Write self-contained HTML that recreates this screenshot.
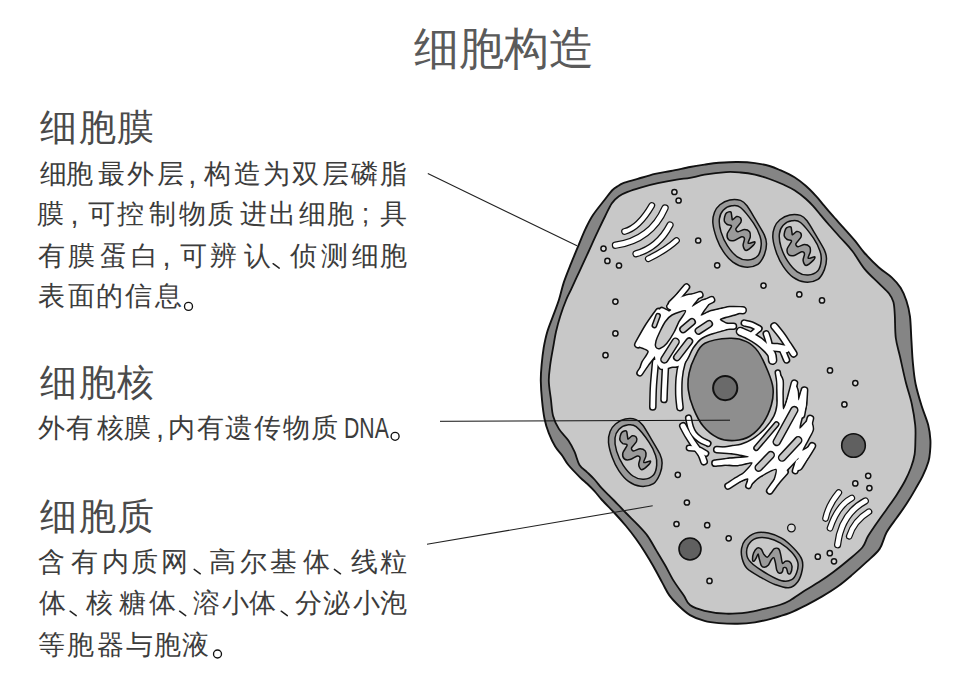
<!DOCTYPE html>
<html><head><meta charset="utf-8"><style>
*{margin:0;padding:0}
html,body{width:959px;height:692px;background:#fff;overflow:hidden}
body{position:relative;font-family:"Liberation Sans",sans-serif;color:#3c3c3c}
.t{position:absolute;white-space:nowrap;line-height:1}
svg{position:absolute;left:0;top:0}
.ln{position:absolute;left:0;line-height:1;white-space:nowrap}
.ln span{position:absolute;top:0}
</style></head>
<body>
<svg width="959" height="692" viewBox="0 0 959 692">
<path d="M612.5,190.0 C614.8,187.7 616.2,187.1 618.0,186.0 C619.8,184.9 619.9,184.4 623.2,183.2 C626.5,182.0 632.4,180.5 637.7,178.9 C643.0,177.3 649.5,175.1 655.0,173.8 C660.5,172.5 665.1,172.1 670.9,171.0 C676.7,169.9 684.4,168.1 690.0,167.0 C695.6,165.9 699.7,165.3 704.5,164.6 C709.3,163.9 713.4,163.2 718.9,162.8 C724.4,162.4 731.7,161.9 737.7,162.0 C743.7,162.1 749.7,162.4 755.0,163.1 C760.3,163.8 765.3,164.8 769.5,166.0 C773.7,167.2 775.8,168.2 780.0,170.1 C784.2,172.0 790.2,174.7 794.5,177.3 C798.8,180.0 802.4,182.9 806.0,186.0 C809.6,189.1 813.2,193.0 816.1,196.1 C819.0,199.2 820.8,201.7 823.4,204.8 C826.0,207.9 828.6,211.1 832.0,214.9 C835.4,218.8 839.8,223.6 843.6,227.9 C847.5,232.2 851.6,236.7 855.1,240.9 C858.6,245.1 860.5,248.6 864.5,253.0 C868.5,257.4 874.3,263.4 878.9,267.5 C883.5,271.6 888.3,274.2 891.9,277.6 C895.5,281.0 898.2,283.9 900.6,287.7 C903.0,291.5 904.8,295.9 906.4,300.7 C908.0,305.5 909.2,310.1 910.0,316.6 C910.8,323.2 910.9,332.4 911.4,340.0 C911.9,347.6 912.1,354.7 912.8,362.0 C913.5,369.3 914.1,376.8 915.6,384.0 C917.1,391.2 919.4,398.7 921.5,405.5 C923.6,412.3 926.7,419.2 928.2,425.0 C929.7,430.8 930.1,435.5 930.4,440.0 C930.7,444.5 930.3,448.4 930.0,452.0 C929.7,455.6 929.6,457.7 928.4,461.7 C927.2,465.7 924.8,471.5 922.6,476.1 C920.4,480.7 918.0,484.5 915.4,489.1 C912.8,493.7 909.8,498.8 906.7,503.6 C903.6,508.4 900.0,513.2 896.6,518.0 C893.2,522.8 889.3,527.4 886.5,532.5 C883.7,537.6 882.9,544.0 879.6,548.9 C876.3,553.8 871.2,557.6 866.6,561.9 C862.0,566.2 856.9,570.8 852.1,574.9 C847.3,579.0 842.8,582.9 837.7,586.5 C832.7,590.1 827.1,593.5 821.8,596.6 C816.5,599.7 811.2,602.6 805.9,605.3 C800.6,608.0 795.8,610.5 790.0,612.8 C784.2,615.0 776.7,617.2 770.9,618.8 C765.1,620.4 760.5,621.6 755.0,622.4 C749.5,623.2 743.7,623.7 737.7,623.8 C731.7,623.9 724.4,623.6 718.9,623.1 C713.4,622.6 709.3,622.2 704.5,620.9 C699.7,619.6 694.2,617.6 690.0,615.1 C685.8,612.6 682.4,609.3 679.0,606.0 C675.6,602.7 672.2,599.3 669.4,595.4 C666.6,591.5 664.8,587.2 662.1,582.4 C659.5,577.6 656.4,571.6 653.5,566.5 C650.6,561.4 647.7,556.6 644.8,552.0 C641.9,547.4 639.2,543.3 636.1,539.0 C633.0,534.7 629.6,530.3 626.0,526.0 C622.4,521.7 618.5,517.3 614.5,513.0 C610.5,508.7 605.3,503.6 602.0,500.0 C598.7,496.4 597.0,493.8 594.5,491.1 C592.0,488.4 589.6,486.1 587.2,483.8 C584.8,481.5 583.1,480.4 580.0,477.3 C576.9,474.2 571.4,468.6 568.4,465.0 C565.4,461.4 564.5,458.8 562.3,455.7 C560.1,452.6 557.5,450.4 555.2,446.6 C553.0,442.9 550.6,437.8 548.8,433.2 C547.0,428.6 545.6,424.3 544.5,418.8 C543.4,413.3 542.6,406.3 542.0,400.0 C541.4,393.7 540.9,386.7 540.8,380.9 C540.7,375.1 541.1,370.5 541.6,365.0 C542.1,359.5 542.8,353.2 543.7,347.7 C544.7,342.2 545.7,337.1 547.3,331.8 C548.9,326.5 551.2,321.2 553.1,315.9 C555.0,310.6 557.1,305.6 558.9,300.0 C560.7,294.4 561.8,288.5 563.8,282.4 C565.8,276.3 568.6,269.6 571.0,263.6 C573.4,257.6 575.8,252.0 578.2,246.2 C580.6,240.4 583.0,234.1 585.5,228.9 C588.0,223.7 589.8,219.8 593.0,215.0 C596.2,210.2 601.2,204.2 604.5,200.0 C607.8,195.8 610.2,192.3 612.5,190.0Z" fill="#858585" stroke="#111" stroke-width="1.9"/>
<path d="M611.7,203.5 C614.0,200.1 616.2,198.1 618.9,196.2 C621.5,194.3 624.0,193.3 627.6,191.9 C631.2,190.5 635.6,189.1 640.6,187.6 C645.6,186.1 651.9,184.5 657.9,183.2 C663.9,181.9 671.4,180.5 676.7,179.6 C682.1,178.7 685.4,178.7 690.0,177.9 C694.6,177.1 698.5,175.7 704.5,174.7 C710.5,173.7 720.1,172.5 726.1,172.1 C732.1,171.7 735.8,172.1 740.6,172.5 C745.4,172.9 750.2,173.6 755.0,174.7 C759.8,175.8 764.7,177.3 769.5,179.0 C774.3,180.7 779.7,182.9 783.9,184.8 C788.1,186.7 790.8,187.9 794.5,190.3 C798.2,192.7 802.9,196.3 806.0,199.0 C809.1,201.7 810.8,203.5 813.2,206.2 C815.6,208.8 817.9,211.8 820.5,214.9 C823.1,218.0 825.7,221.2 829.1,225.0 C832.5,228.8 836.8,233.7 840.7,238.0 C844.6,242.3 848.3,245.8 852.3,251.0 C856.3,256.1 860.1,263.5 864.5,268.9 C868.9,274.3 874.8,279.3 878.9,283.4 C883.0,287.5 886.6,290.4 889.0,293.5 C891.4,296.6 892.4,298.5 893.4,302.1 C894.4,305.7 894.4,309.1 894.8,315.1 C895.2,321.1 894.9,331.0 895.8,338.0 C896.7,345.0 898.4,349.5 900.1,357.0 C901.8,364.5 904.0,375.2 906.0,383.0 C908.0,390.8 910.3,397.0 911.8,404.0 C913.3,411.0 914.6,419.0 915.2,425.0 C915.8,431.0 915.5,435.1 915.4,440.0 C915.3,444.9 915.3,449.9 914.6,454.5 C913.9,459.1 912.6,463.2 911.0,467.5 C909.4,471.8 907.6,475.9 905.2,480.5 C902.8,485.1 899.7,490.1 896.6,494.9 C893.5,499.7 889.9,504.6 886.5,509.4 C883.1,514.2 879.4,519.2 876.3,523.8 C873.2,528.4 870.0,532.8 867.7,536.8 C865.4,540.8 865.6,543.5 862.3,547.5 C859.0,551.5 852.6,556.4 847.8,560.5 C843.0,564.6 838.2,568.4 833.4,572.0 C828.6,575.6 823.7,579.0 818.9,582.1 C814.1,585.2 809.3,587.7 804.5,590.8 C799.7,593.9 794.1,598.1 790.0,600.5 C785.9,602.9 783.8,603.6 779.6,605.0 C775.5,606.4 770.4,607.4 765.1,608.6 C759.8,609.8 754.3,611.4 747.8,612.3 C741.3,613.1 733.3,614.0 726.1,613.7 C718.9,613.5 710.5,612.2 704.5,610.8 C698.5,609.3 693.5,607.6 690.0,605.0 C686.5,602.4 686.5,599.4 683.8,595.4 C681.1,591.4 676.8,586.0 673.7,580.9 C670.6,575.8 667.9,570.0 665.0,565.0 C662.1,560.0 659.3,555.4 656.4,550.6 C653.5,545.8 650.8,540.4 647.7,536.1 C644.6,531.8 641.2,528.5 637.6,524.6 C634.0,520.8 630.0,517.1 626.0,513.0 C622.0,508.9 616.4,502.9 613.5,500.0 C610.6,497.1 610.9,497.4 608.9,495.4 C606.9,493.4 604.1,490.8 601.7,488.2 C599.3,485.6 596.9,482.1 594.5,479.5 C592.1,476.9 589.7,474.7 587.2,472.3 C584.7,469.9 581.6,468.4 579.5,465.0 C577.4,461.6 576.4,455.8 574.5,451.7 C572.6,447.6 571.0,444.3 568.4,440.5 C565.8,436.7 561.4,433.0 558.9,428.9 C556.4,424.8 554.4,420.7 553.1,415.9 C551.8,411.1 551.7,405.8 551.0,400.0 C550.3,394.2 548.9,386.7 548.8,380.9 C548.7,375.1 549.5,370.5 550.2,365.0 C550.9,359.5 552.1,353.2 553.1,347.7 C554.1,342.2 554.8,337.1 556.0,331.8 C557.2,326.5 558.6,321.2 560.3,315.9 C562.0,310.6 564.3,304.4 566.1,300.0 C567.9,295.6 568.7,294.5 571.0,289.6 C573.3,284.7 576.8,277.1 579.7,270.8 C582.6,264.5 585.5,258.3 588.4,252.0 C591.3,245.7 594.2,239.1 597.0,233.2 C599.8,227.3 602.5,221.4 605.0,216.5 C607.5,211.6 609.4,206.9 611.7,203.5Z" fill="#c8c8c8" stroke="#111" stroke-width="1.8"/>
<path d="M704.9,343.3 C710.7,340.2 722.9,338.6 729.8,338.3 C736.7,338.0 741.7,339.4 746.4,341.6 C751.1,343.8 754.5,346.6 758.1,351.6 C761.7,356.6 765.5,365.4 768.0,371.5 C770.5,377.6 772.4,382.6 773.0,388.1 C773.6,393.7 773.0,399.0 771.4,404.8 C769.8,410.6 766.7,417.8 763.1,423.0 C759.5,428.2 754.5,433.4 749.8,436.3 C745.1,439.2 740.1,440.2 734.8,440.5 C729.5,440.8 723.5,440.4 718.2,438.0 C713.0,435.6 707.4,431.3 703.3,426.3 C699.1,421.3 695.8,414.2 693.3,408.1 C690.8,402.0 689.0,395.6 688.3,389.8 C687.6,384.0 688.0,378.7 689.1,373.2 C690.2,367.7 692.4,361.6 695.0,356.6 C697.6,351.6 699.1,346.4 704.9,343.3Z" fill="#8e8e8e" stroke="#111" stroke-width="1.6"/>
<circle cx="725.2" cy="388.1" r="12.1" fill="#6a6a6a" stroke="#111" stroke-width="2"/>
<circle cx="853.5" cy="445.5" r="11.8" fill="#606060" stroke="#111" stroke-width="1.6"/>
<circle cx="690" cy="549" r="11" fill="#606060" stroke="#111" stroke-width="1.6"/>
<circle cx="674.4" cy="192.0" r="2.6" fill="#dedede" stroke="#111" stroke-width="1.5"/>
<circle cx="678.6" cy="200.5" r="2.6" fill="#dedede" stroke="#111" stroke-width="1.5"/>
<circle cx="603.5" cy="248.6" r="2.6" fill="#dedede" stroke="#111" stroke-width="1.5"/>
<circle cx="607.4" cy="260.9" r="2.6" fill="#dedede" stroke="#111" stroke-width="1.5"/>
<circle cx="619.0" cy="265.5" r="2.6" fill="#dedede" stroke="#111" stroke-width="1.5"/>
<circle cx="698.2" cy="240.5" r="2.6" fill="#dedede" stroke="#111" stroke-width="1.5"/>
<circle cx="717.2" cy="265.3" r="2.6" fill="#dedede" stroke="#111" stroke-width="1.5"/>
<circle cx="763.5" cy="285.6" r="2.6" fill="#dedede" stroke="#111" stroke-width="1.5"/>
<circle cx="799.3" cy="294.4" r="2.6" fill="#dedede" stroke="#111" stroke-width="1.5"/>
<circle cx="822.0" cy="300.4" r="2.6" fill="#dedede" stroke="#111" stroke-width="1.5"/>
<circle cx="830.0" cy="370.4" r="2.6" fill="#dedede" stroke="#111" stroke-width="1.5"/>
<circle cx="855.3" cy="383.1" r="2.6" fill="#dedede" stroke="#111" stroke-width="1.5"/>
<circle cx="844.4" cy="404.4" r="2.6" fill="#dedede" stroke="#111" stroke-width="1.5"/>
<circle cx="615.4" cy="301.6" r="2.6" fill="#dedede" stroke="#111" stroke-width="1.5"/>
<circle cx="615.4" cy="333.4" r="2.6" fill="#dedede" stroke="#111" stroke-width="1.5"/>
<circle cx="605.5" cy="355.2" r="2.6" fill="#dedede" stroke="#111" stroke-width="1.5"/>
<circle cx="677.8" cy="474.8" r="2.6" fill="#dedede" stroke="#111" stroke-width="1.5"/>
<circle cx="686.9" cy="502.5" r="2.6" fill="#dedede" stroke="#111" stroke-width="1.5"/>
<circle cx="676.5" cy="524.0" r="2.6" fill="#dedede" stroke="#111" stroke-width="1.5"/>
<circle cx="707.2" cy="525.2" r="2.6" fill="#dedede" stroke="#111" stroke-width="1.5"/>
<circle cx="728.7" cy="538.3" r="2.6" fill="#dedede" stroke="#111" stroke-width="1.5"/>
<circle cx="709.5" cy="580.9" r="2.6" fill="#dedede" stroke="#111" stroke-width="1.5"/>
<circle cx="868.2" cy="475.8" r="2.6" fill="#dedede" stroke="#111" stroke-width="1.5"/>
<circle cx="855.3" cy="483.4" r="2.6" fill="#dedede" stroke="#111" stroke-width="1.5"/>
<circle cx="869.4" cy="488.1" r="2.6" fill="#dedede" stroke="#111" stroke-width="1.5"/>
<circle cx="817.8" cy="556.7" r="2.6" fill="#dedede" stroke="#111" stroke-width="1.5"/>
<circle cx="829.8" cy="553.2" r="2.6" fill="#dedede" stroke="#111" stroke-width="1.5"/>
<circle cx="834.0" cy="561.3" r="2.6" fill="#dedede" stroke="#111" stroke-width="1.5"/>
<circle cx="791.4" cy="528" r="3.8" fill="#dedede" stroke="#111" stroke-width="1.3"/>
<path d="M729.7,199.9 C733.1,199.2 737.6,199.4 740.5,200.4 C743.4,201.4 744.5,202.6 747.0,205.8 C749.5,209.1 752.8,215.0 755.7,219.9 C758.6,224.8 762.6,231.1 764.4,235.1 C766.2,239.1 766.5,240.6 766.5,243.8 C766.5,247.1 765.8,251.2 764.4,254.6 C763.0,258.0 761.1,262.3 757.9,264.4 C754.6,266.5 749.1,267.5 744.9,267.1 C740.7,266.7 736.5,264.8 732.9,262.2 C729.3,259.6 725.9,255.4 723.2,251.4 C720.5,247.4 718.4,243.1 716.7,238.4 C715.0,233.7 713.3,227.5 712.9,223.2 C712.5,218.8 713.3,215.4 714.5,212.3 C715.7,209.2 717.4,206.9 719.9,204.8 C722.4,202.7 726.3,200.6 729.7,199.9Z" fill="#9a9a9a" stroke="#111" stroke-width="1.5"/>
<path d="M731.8,205.8 C734.7,205.4 736.9,204.6 740.5,207.5 C744.1,210.4 750.2,218.4 753.5,223.2 C756.8,228.0 758.7,232.4 760.0,236.2 C761.3,240.0 761.5,242.7 761.1,245.9 C760.8,249.2 760.1,253.3 757.9,255.7 C755.7,258.1 751.5,259.8 748.1,260.0 C744.7,260.2 740.7,259.2 737.3,256.8 C733.9,254.5 730.2,250.1 727.5,245.9 C724.8,241.8 722.4,236.4 721.0,231.9 C719.6,227.4 719.0,222.4 719.4,218.8 C719.8,215.2 721.1,212.4 723.2,210.2 C725.3,208.0 728.9,206.2 731.8,205.8Z" fill="#c8c8c8" stroke="#111" stroke-width="1.5"/>
<path d="M726.5,212.9 C727.4,212.2 730.0,211.2 730.8,211.9 C731.6,212.6 731.6,216.1 731.9,217.3 C732.2,218.5 731.9,219.9 732.6,219.8 C733.3,219.7 735.4,216.9 736.6,216.6 C737.8,216.3 740.0,217.1 740.6,218.0 C741.2,218.9 741.6,220.7 740.9,222.3 C740.2,223.9 736.3,227.4 735.9,228.8 C735.5,230.2 736.8,231.6 738.1,231.7 C739.4,231.8 742.8,229.5 744.5,229.5 C746.2,229.5 748.7,230.6 749.6,231.7 C750.5,232.8 750.5,235.1 750.3,236.8 C750.1,238.5 747.5,242.6 748.2,243.3 C748.9,244.1 754.0,241.5 754.7,241.8 C755.5,242.1 754.5,244.1 753.2,245.4 C751.9,246.7 747.5,250.5 746.0,250.5 C744.5,250.5 743.3,247.1 743.1,245.4 C742.9,243.7 744.7,240.2 744.5,238.9 C744.3,237.6 743.2,236.6 741.7,236.8 C740.2,237.0 736.4,240.0 734.4,240.4 C732.4,240.8 729.8,240.7 728.7,239.7 C727.6,238.7 726.8,236.0 727.2,233.9 C727.6,231.8 731.6,227.3 731.6,225.9 C731.6,224.5 728.3,225.2 727.2,224.5 C726.1,223.8 724.7,222.1 724.3,220.9 C723.9,219.7 724.4,217.8 724.7,216.6 C725.0,215.4 725.6,213.6 726.5,212.9Z" fill="#9a9a9a" stroke="#111" stroke-width="1.5" stroke-linejoin="round"/>
<path d="M789.7,214.9 C793.1,214.2 797.6,214.4 800.5,215.4 C803.4,216.4 804.5,217.6 807.0,220.8 C809.5,224.1 812.8,230.0 815.7,234.9 C818.6,239.8 822.6,246.1 824.4,250.1 C826.2,254.1 826.5,255.6 826.5,258.8 C826.5,262.1 825.8,266.2 824.4,269.6 C823.0,273.0 821.1,277.3 817.9,279.4 C814.6,281.5 809.1,282.5 804.9,282.1 C800.7,281.7 796.5,279.8 792.9,277.2 C789.3,274.6 785.9,270.4 783.2,266.4 C780.5,262.4 778.4,258.1 776.7,253.4 C775.0,248.7 773.3,242.5 772.9,238.2 C772.5,233.8 773.3,230.4 774.5,227.3 C775.7,224.2 777.4,221.9 779.9,219.8 C782.4,217.7 786.3,215.6 789.7,214.9Z" fill="#9a9a9a" stroke="#111" stroke-width="1.5"/>
<path d="M791.8,220.8 C794.7,220.4 796.9,219.6 800.5,222.5 C804.1,225.4 810.2,233.4 813.5,238.2 C816.8,243.0 818.7,247.4 820.0,251.2 C821.3,255.0 821.5,257.6 821.1,260.9 C820.8,264.1 820.1,268.3 817.9,270.7 C815.7,273.1 811.5,274.8 808.1,275.0 C804.7,275.2 800.7,274.2 797.3,271.8 C793.9,269.4 790.2,265.0 787.5,260.9 C784.8,256.8 782.4,251.4 781.0,246.9 C779.6,242.4 779.0,237.4 779.4,233.8 C779.8,230.2 781.1,227.4 783.2,225.2 C785.3,223.0 788.9,221.2 791.8,220.8Z" fill="#c8c8c8" stroke="#111" stroke-width="1.5"/>
<path d="M786.5,227.9 C787.4,227.2 790.0,226.2 790.8,226.9 C791.6,227.6 791.6,231.1 791.9,232.3 C792.2,233.5 791.9,234.9 792.6,234.8 C793.3,234.7 795.4,231.9 796.6,231.6 C797.8,231.3 800.0,232.1 800.6,233.0 C801.2,233.9 801.6,235.7 800.9,237.3 C800.2,238.9 796.3,242.4 795.9,243.8 C795.5,245.2 796.8,246.6 798.1,246.7 C799.4,246.8 802.8,244.5 804.5,244.5 C806.2,244.5 808.7,245.6 809.6,246.7 C810.5,247.8 810.5,250.1 810.3,251.8 C810.1,253.5 807.5,257.6 808.2,258.3 C808.9,259.1 814.0,256.5 814.7,256.8 C815.5,257.1 814.5,259.1 813.2,260.4 C811.9,261.7 807.5,265.5 806.0,265.5 C804.5,265.5 803.3,262.1 803.1,260.4 C802.9,258.7 804.7,255.2 804.5,253.9 C804.3,252.6 803.2,251.6 801.7,251.8 C800.2,252.0 796.4,255.0 794.4,255.4 C792.4,255.8 789.8,255.7 788.7,254.7 C787.6,253.7 786.8,251.0 787.2,248.9 C787.6,246.8 791.6,242.3 791.6,240.9 C791.6,239.5 788.3,240.2 787.2,239.5 C786.1,238.8 784.7,237.1 784.3,235.9 C783.9,234.7 784.4,232.8 784.7,231.6 C785.0,230.4 785.6,228.6 786.5,227.9Z" fill="#9a9a9a" stroke="#111" stroke-width="1.5" stroke-linejoin="round"/>
<path d="M625.3,419.1 C628.7,418.4 633.2,418.6 636.1,419.6 C639.0,420.6 640.1,421.8 642.6,425.0 C645.1,428.2 648.4,434.2 651.3,439.1 C654.2,444.0 658.2,450.3 660.0,454.3 C661.8,458.3 662.1,459.8 662.1,463.0 C662.1,466.2 661.4,470.4 660.0,473.8 C658.6,477.2 656.8,481.5 653.5,483.6 C650.2,485.7 644.7,486.7 640.5,486.3 C636.3,485.9 632.1,484.0 628.5,481.4 C624.9,478.8 621.5,474.6 618.8,470.6 C616.1,466.6 614.0,462.3 612.3,457.6 C610.6,452.9 608.9,446.8 608.5,442.4 C608.1,438.0 608.9,434.6 610.1,431.5 C611.3,428.4 613.0,426.1 615.5,424.0 C618.0,421.9 621.9,419.8 625.3,419.1Z" fill="#9a9a9a" stroke="#111" stroke-width="1.5"/>
<path d="M627.4,425.0 C630.3,424.6 632.5,423.8 636.1,426.7 C639.7,429.6 645.9,437.6 649.1,442.4 C652.4,447.2 654.3,451.6 655.6,455.4 C656.9,459.2 657.1,461.9 656.7,465.1 C656.4,468.4 655.7,472.5 653.5,474.9 C651.3,477.2 647.1,479.0 643.7,479.2 C640.3,479.4 636.3,478.4 632.9,476.0 C629.5,473.6 625.8,469.2 623.1,465.1 C620.4,461.0 618.0,455.6 616.6,451.1 C615.2,446.6 614.6,441.6 615.0,438.0 C615.4,434.4 616.7,431.6 618.8,429.4 C620.9,427.2 624.5,425.4 627.4,425.0Z" fill="#c8c8c8" stroke="#111" stroke-width="1.5"/>
<path d="M622.1,432.1 C623.0,431.4 625.6,430.4 626.4,431.1 C627.2,431.8 627.2,435.3 627.5,436.5 C627.8,437.7 627.5,439.1 628.2,439.0 C628.9,438.9 631.0,436.1 632.2,435.8 C633.4,435.5 635.6,436.3 636.2,437.2 C636.8,438.1 637.2,439.9 636.5,441.5 C635.8,443.1 631.9,446.6 631.5,448.0 C631.1,449.4 632.4,450.8 633.7,450.9 C635.0,451.0 638.4,448.7 640.1,448.7 C641.8,448.7 644.3,449.8 645.2,450.9 C646.1,452.0 646.1,454.3 645.9,456.0 C645.7,457.7 643.1,461.8 643.8,462.5 C644.5,463.2 649.6,460.7 650.3,461.0 C651.1,461.3 650.1,463.3 648.8,464.6 C647.5,465.9 643.1,469.7 641.6,469.7 C640.1,469.7 638.9,466.3 638.7,464.6 C638.5,462.9 640.3,459.4 640.1,458.1 C639.9,456.8 638.8,455.8 637.3,456.0 C635.8,456.2 632.0,459.2 630.0,459.6 C628.0,460.0 625.4,459.9 624.3,458.9 C623.2,457.9 622.4,455.2 622.8,453.1 C623.2,451.0 627.2,446.5 627.2,445.1 C627.2,443.7 623.9,444.4 622.8,443.7 C621.7,442.9 620.3,441.3 619.9,440.1 C619.5,438.9 620.0,437.0 620.3,435.8 C620.6,434.6 621.2,432.8 622.1,432.1Z" fill="#9a9a9a" stroke="#111" stroke-width="1.5" stroke-linejoin="round"/>
<path d="M745.1,540.2 C747.4,537.7 751.3,534.3 755.2,533.1 C759.1,531.9 764.0,532.2 768.4,533.1 C772.8,534.0 777.4,535.7 781.6,538.2 C785.8,540.7 790.3,544.8 793.7,548.3 C797.1,551.8 800.4,555.9 801.8,559.4 C803.2,562.9 803.0,565.8 802.3,569.5 C801.6,573.2 800.1,578.7 797.8,581.7 C795.5,584.8 792.3,587.3 788.6,587.8 C784.9,588.3 780.0,586.4 775.5,584.7 C771.0,583.0 766.0,580.3 761.3,577.6 C756.6,574.9 750.3,571.7 747.1,568.5 C743.9,565.3 743.0,561.8 742.1,558.4 C741.2,555.0 741.1,551.3 741.6,548.3 C742.1,545.3 742.8,542.7 745.1,540.2Z" fill="#9a9a9a" stroke="#111" stroke-width="1.5"/>
<path d="M748.2,545.2 C749.7,542.2 752.9,539.4 756.3,538.2 C759.7,537.0 764.4,537.4 768.4,538.2 C772.4,539.0 776.6,540.9 780.5,543.2 C784.4,545.6 788.8,549.1 791.7,552.3 C794.6,555.5 797.0,559.0 797.8,562.4 C798.6,565.8 797.7,569.7 796.7,572.6 C795.7,575.5 794.2,578.4 791.7,579.7 C789.2,581.1 785.5,581.6 781.6,580.7 C777.7,579.9 773.1,577.3 768.4,574.6 C763.7,571.9 756.8,567.5 753.2,564.5 C749.7,561.5 747.9,559.6 747.1,556.4 C746.3,553.2 746.7,548.2 748.2,545.2Z" fill="#c8c8c8" stroke="#111" stroke-width="1.5"/>
<path d="M752.6,560.2 C752.5,559.0 752.9,554.9 753.6,553.1 C754.3,551.3 756.0,548.7 757.1,548.1 C758.2,547.5 760.2,548.2 761.2,549.1 C762.2,550.0 762.8,552.9 763.7,554.1 C764.6,555.3 766.1,557.4 767.2,557.2 C768.3,557.1 769.7,554.4 770.8,553.1 C771.9,551.8 773.1,549.2 774.3,548.6 C775.5,548.0 777.9,548.1 778.9,549.1 C779.9,550.1 780.4,553.5 780.9,555.6 C781.4,557.7 781.7,562.4 782.4,563.2 C783.1,564.0 784.3,561.4 785.4,561.2 C786.5,561.0 788.5,560.9 789.5,561.7 C790.5,562.5 791.9,564.6 792.0,566.3 C792.1,568.0 791.1,572.2 790.5,573.3 C789.9,574.3 788.6,574.0 788.0,573.3 C787.4,572.5 787.1,569.1 786.4,568.3 C785.7,567.5 784.0,567.3 783.4,567.8 C782.8,568.3 783.0,571.0 782.4,571.8 C781.8,572.6 780.2,573.5 779.4,573.3 C778.6,573.1 777.4,572.0 776.8,570.3 C776.2,568.6 775.8,564.1 775.3,562.2 C774.8,560.3 774.4,558.1 773.8,557.7 C773.2,557.3 772.1,558.6 771.3,559.7 C770.5,560.8 769.3,564.2 768.2,565.3 C767.1,566.4 765.2,567.3 764.2,567.3 C763.2,567.3 762.0,566.7 761.2,565.3 C760.4,563.9 759.6,559.9 759.1,558.2 C758.6,556.5 758.6,554.1 758.1,554.1 C757.6,554.1 756.7,557.1 756.1,558.2 C755.5,559.3 754.6,560.9 754.1,561.2 C753.6,561.5 752.7,561.4 752.6,560.2Z" fill="#9a9a9a" stroke="#111" stroke-width="1.5" stroke-linejoin="round"/>
<path d="M624.5,231.5 Q638.6,228.1 651.8,205.5" fill="none" stroke="#111" stroke-width="6.8" stroke-linecap="round"/>
<path d="M624.5,231.5 Q638.6,228.1 651.8,205.5" fill="none" stroke="#fff" stroke-width="4.4" stroke-linecap="round"/>
<path d="M615.5,245.2 Q650.8,240.2 665.0,208.0" fill="none" stroke="#111" stroke-width="7.4" stroke-linecap="round"/>
<path d="M615.5,245.2 Q650.8,240.2 665.0,208.0" fill="none" stroke="#fff" stroke-width="5.0" stroke-linecap="round"/>
<path d="M636.0,253.8 Q658.2,247.6 670.0,225.0" fill="none" stroke="#111" stroke-width="7.2" stroke-linecap="round"/>
<path d="M636.0,253.8 Q658.2,247.6 670.0,225.0" fill="none" stroke="#fff" stroke-width="4.8" stroke-linecap="round"/>
<path d="M648.3,258.8 Q667.0,249.5 676.5,240.5" fill="none" stroke="#111" stroke-width="6.8" stroke-linecap="round"/>
<path d="M648.3,258.8 Q667.0,249.5 676.5,240.5" fill="none" stroke="#fff" stroke-width="4.4" stroke-linecap="round"/>
<path d="M825.5,518.5 Q828.3,505.1 838.8,492.5" fill="none" stroke="#111" stroke-width="6.7" stroke-linecap="round"/>
<path d="M825.5,518.5 Q828.3,505.1 838.8,492.5" fill="none" stroke="#fff" stroke-width="4.3" stroke-linecap="round"/>
<path d="M830.0,528.2 Q837.7,505.5 851.8,498.0" fill="none" stroke="#111" stroke-width="6.7" stroke-linecap="round"/>
<path d="M830.0,528.2 Q837.7,505.5 851.8,498.0" fill="none" stroke="#fff" stroke-width="4.3" stroke-linecap="round"/>
<path d="M837.6,544.8 Q841.3,513.9 865.3,501.0" fill="none" stroke="#111" stroke-width="7.2" stroke-linecap="round"/>
<path d="M837.6,544.8 Q841.3,513.9 865.3,501.0" fill="none" stroke="#fff" stroke-width="4.8" stroke-linecap="round"/>
<path d="M849.2,536.3 Q853.9,521.0 869.0,511.7" fill="none" stroke="#111" stroke-width="6.7" stroke-linecap="round"/>
<path d="M849.2,536.3 Q853.9,521.0 869.0,511.7" fill="none" stroke="#fff" stroke-width="4.3" stroke-linecap="round"/>
<path d="M639.9,346.4 C638.3,345.4 638.7,345.3 638.6,344.8 C638.4,344.2 637.6,345.1 638.8,342.7 C639.9,340.3 643.9,333.1 646.3,328.8 C648.7,324.5 652.8,316.6 655.0,313.8 C657.2,311.0 659.4,310.3 661.3,310.0 C663.2,309.7 666.0,311.9 667.5,311.9 C669.0,311.9 671.2,310.6 671.3,310.0 C671.4,309.4 669.0,308.7 668.4,308.2 C667.8,307.7 667.5,307.2 667.5,306.7 C667.4,306.3 667.0,306.3 668.0,305.1 C668.9,303.9 671.6,301.2 673.8,298.8 C676.0,296.4 680.9,290.5 682.6,288.8 C684.3,287.1 684.6,287.6 685.1,287.4 C685.6,287.1 685.8,287.3 686.0,287.4 C686.1,287.6 686.3,287.7 686.2,288.3 C686.1,288.8 686.1,289.9 685.1,291.3 C684.1,292.7 678.8,296.9 679.4,297.5 C680.0,298.1 686.0,295.4 688.8,295.0 C691.6,294.6 696.4,294.5 698.0,294.5 C699.5,294.5 698.9,294.8 699.0,295.1 C699.2,295.3 699.3,295.7 699.1,296.2 C698.8,296.8 698.7,297.2 697.6,298.8 C696.5,300.4 691.1,306.6 691.9,306.9 C692.6,307.2 700.0,301.7 702.6,300.6 C705.2,299.5 707.9,299.8 709.0,299.8 C710.2,299.7 710.1,300.1 710.3,300.4 C710.4,300.7 710.6,301.1 710.2,301.8 C709.8,302.4 709.0,302.9 707.6,305.0 C706.2,307.1 700.1,314.8 700.7,315.7 C701.3,316.6 707.3,312.4 711.3,311.3 C715.3,310.2 723.3,308.5 727.6,308.2 C731.9,307.9 738.0,309.3 739.9,309.6 C741.9,310.0 740.8,310.2 740.9,310.5 C740.9,310.8 741.0,311.1 740.3,311.6 C739.7,312.1 739.4,312.7 736.4,313.8 C733.4,314.9 721.8,317.4 720.1,318.8 C718.4,320.2 723.6,322.3 725.1,323.2 C726.6,324.1 729.3,324.5 730.2,325.0 C731.1,325.5 731.1,325.9 731.1,326.3 C731.1,326.7 731.1,327.1 730.2,327.6 C729.3,328.1 728.1,328.5 725.1,329.4 C722.1,330.3 713.9,332.4 710.1,333.8 C706.4,335.2 702.7,336.7 700.1,338.8 C697.5,340.9 694.5,344.8 692.6,347.6 C690.7,350.4 688.8,355.4 687.6,357.6 C686.4,359.8 685.9,360.7 684.5,362.0 C683.1,363.3 679.8,365.3 678.0,366.0 C676.2,366.7 674.1,366.2 672.5,366.5 C670.9,366.8 668.5,367.7 667.0,368.0 C665.5,368.3 663.2,368.7 662.2,368.7 C661.3,368.8 661.1,368.7 660.7,368.5 C660.3,368.3 660.3,368.5 659.6,367.5 C658.8,366.5 656.9,363.9 656.0,362.0 C655.1,360.1 655.4,354.4 653.8,355.0 C652.1,355.6 646.8,364.0 645.0,366.3 C643.2,368.6 642.4,370.0 641.8,370.7 C641.1,371.3 641.0,371.0 640.8,370.9 C640.6,370.8 640.2,371.3 640.4,370.0 C640.7,368.8 641.2,365.3 642.5,362.5 C643.8,359.7 649.2,353.7 648.8,351.3 C648.4,348.9 641.4,347.4 639.9,346.4Z" fill="#111" stroke="#111" stroke-width="3" stroke-linejoin="round"/>
<path d="M777.6,373.4 C777.6,373.0 777.7,373.1 777.9,373.0 C778.0,373.0 777.7,372.1 778.3,373.2 C779.0,374.3 781.8,376.9 782.4,380.2 C783.0,383.5 782.2,390.9 782.4,395.3 C782.5,399.7 782.3,409.5 783.4,409.5 C784.5,409.5 788.0,398.8 789.5,395.3 C791.0,391.8 792.4,387.7 793.2,386.2 C793.9,384.8 794.1,385.3 794.5,385.3 C794.9,385.4 795.4,385.4 795.9,386.3 C796.3,387.2 797.2,389.2 797.6,391.3 C798.0,393.4 798.0,400.4 798.6,400.4 C799.2,400.4 800.9,392.8 801.6,391.3 C802.3,389.8 803.0,390.6 803.4,390.4 C803.8,390.3 804.1,390.3 804.3,390.5 C804.5,390.6 804.6,389.0 804.8,391.2 C805.0,393.5 806.2,401.5 805.7,405.5 C805.2,409.5 802.5,414.1 801.6,417.6 C800.7,421.1 798.8,428.1 799.6,428.7 C800.4,429.3 805.5,422.8 807.0,421.6 C808.6,420.4 809.1,420.8 809.7,421.0 C810.4,421.2 811.1,421.7 811.5,423.1 C811.9,424.4 813.2,427.5 812.6,430.0 C812.0,432.5 809.1,436.9 807.6,440.0 C806.1,443.1 802.2,449.5 802.3,450.6 C802.4,451.7 807.1,448.0 808.3,447.6 C809.5,447.2 810.0,447.5 810.3,447.9 C810.7,448.2 811.3,448.2 810.7,449.9 C810.2,451.6 808.1,456.5 806.6,459.3 C805.1,462.1 802.4,466.9 801.0,468.5 C799.6,470.1 798.2,469.9 797.4,470.1 C796.6,470.3 796.1,470.2 795.8,470.0 C795.4,469.7 795.1,469.4 795.1,468.5 C795.0,467.6 795.0,465.6 795.5,464.0 C796.0,462.4 800.0,456.8 798.4,458.0 C796.8,459.2 788.5,468.1 785.0,472.0 C781.5,475.9 777.0,481.5 775.0,484.0 C773.0,486.5 772.2,487.7 771.6,488.4 C771.0,489.1 771.3,488.5 771.2,488.5 C771.2,488.4 770.8,488.9 771.1,488.1 C771.5,487.4 772.9,486.5 773.7,483.6 C774.5,480.7 778.4,469.9 776.3,468.8 C774.2,467.7 763.8,474.0 760.0,476.3 C756.2,478.6 752.5,482.9 750.8,484.1 C749.2,485.3 749.4,484.6 749.0,484.4 C748.6,484.2 748.1,483.8 747.9,482.9 C747.7,482.0 749.4,478.2 747.5,478.2 C745.6,478.2 737.5,482.0 735.0,483.0 C732.5,484.0 731.4,484.7 730.6,484.9 C729.9,485.2 730.2,484.9 730.1,484.8 C730.1,484.6 728.4,485.7 730.2,484.2 C732.1,482.8 739.2,478.3 742.5,475.0 C745.8,471.7 753.4,464.0 752.5,462.5 C751.6,461.0 741.0,464.8 736.3,465.0 C731.6,465.2 723.6,464.1 721.2,463.8 C718.7,463.4 720.1,463.0 720.1,462.7 C720.0,462.3 719.5,461.9 721.0,461.4 C722.4,460.8 725.8,459.5 730.0,458.8 C734.2,458.1 747.9,457.6 748.8,456.9 C749.7,456.1 740.2,454.7 736.3,453.8 C732.4,452.9 725.2,451.5 723.1,450.9 C720.9,450.2 721.9,449.9 721.9,449.5 C722.0,449.1 721.5,448.6 723.1,448.1 C724.7,447.6 729.8,446.8 732.5,446.3 C735.2,445.8 737.9,446.1 741.0,445.0 C744.1,443.9 749.7,441.6 753.4,439.2 C757.1,436.8 762.3,432.4 765.5,429.0 C768.7,425.6 772.7,420.1 774.5,416.5 C776.3,412.9 777.1,409.2 777.6,405.2 C778.1,401.2 777.6,394.4 777.6,390.0 C777.6,385.6 777.8,378.5 777.8,376.0 C777.8,373.5 777.6,373.9 777.6,373.4Z" fill="#111" stroke="#111" stroke-width="3" stroke-linejoin="round"/>
<path d="M653.8,354.0 C652.5,355.7 648.3,360.8 646.0,364.0 C643.7,367.2 640.8,371.5 639.8,373.0" fill="none" stroke="#111" stroke-width="7.2" stroke-linejoin="round" stroke-linecap="round"/>
<path d="M655.5,362.0 C655.2,365.8 654.0,377.5 653.5,385.0 C653.0,392.5 652.9,403.3 652.8,407.0" fill="none" stroke="#111" stroke-width="7.6" stroke-linejoin="round" stroke-linecap="round"/>
<path d="M665.5,366.0 C665.3,369.3 664.8,380.4 664.5,386.0 C664.2,391.6 664.1,397.2 664.0,399.5" fill="none" stroke="#111" stroke-width="7.6" stroke-linejoin="round" stroke-linecap="round"/>
<path d="M687.0,352.0 C686.2,353.8 683.3,358.7 682.0,363.0 C680.7,367.3 679.7,372.8 679.2,378.0 C678.7,383.2 678.7,389.1 678.8,394.0 C678.9,398.9 679.8,405.2 680.0,407.5" fill="none" stroke="#111" stroke-width="7.8" stroke-linejoin="round" stroke-linecap="round"/>
<path d="M686.5,287.0 C685.2,288.5 681.5,293.2 679.0,296.0 C676.5,298.8 672.8,302.2 671.5,303.5" fill="none" stroke="#111" stroke-width="7.6" stroke-linejoin="round" stroke-linecap="round"/>
<path d="M699.8,294.8 C698.5,295.2 694.5,296.4 692.0,297.5 C689.5,298.6 686.2,300.8 685.0,301.5" fill="none" stroke="#111" stroke-width="7.8" stroke-linejoin="round" stroke-linecap="round"/>
<path d="M711.5,299.8 C710.2,300.4 706.3,302.2 704.0,303.5 C701.7,304.8 698.6,306.8 697.5,307.5" fill="none" stroke="#111" stroke-width="7.8" stroke-linejoin="round" stroke-linecap="round"/>
<path d="M742.8,310.2 C740.7,310.2 734.2,309.5 730.0,310.0 C725.8,310.5 721.8,311.9 717.6,313.2 C713.4,314.5 707.1,317.2 705.0,318.0" fill="none" stroke="#111" stroke-width="8.4" stroke-linejoin="round" stroke-linecap="round"/>
<path d="M733.5,326.3 C732.1,326.3 727.9,326.1 725.0,326.5 C722.1,326.9 717.5,328.2 716.0,328.5" fill="none" stroke="#111" stroke-width="7.6" stroke-linejoin="round" stroke-linecap="round"/>
<path d="M638.0,344.5 C639.7,341.6 644.6,332.4 648.0,327.0 C651.4,321.6 656.8,314.3 658.5,311.8" fill="none" stroke="#111" stroke-width="8.0" stroke-linejoin="round" stroke-linecap="round"/>
<path d="M662.0,310.5 C662.8,310.9 666.2,312.6 667.0,313.0" fill="none" stroke="#111" stroke-width="7.5" stroke-linejoin="round" stroke-linecap="round"/>
<path d="M740.5,331.5 C742.1,332.2 747.0,334.2 750.0,335.8 C753.0,337.4 755.8,339.1 758.5,341.0 C761.2,342.9 763.8,345.3 766.0,347.5 C768.2,349.7 770.4,351.9 771.5,354.0 C772.6,356.1 772.4,359.2 772.6,360.2" fill="none" stroke="#111" stroke-width="9.6" stroke-linejoin="round" stroke-linecap="round"/>
<path d="M744.2,323.0 C745.4,323.3 749.0,323.9 751.5,324.8 C754.0,325.7 757.8,328.0 759.0,328.6" fill="none" stroke="#111" stroke-width="7.4" stroke-linejoin="round" stroke-linecap="round"/>
<path d="M758.5,328.8 C757.4,329.8 753.1,333.6 752.0,334.5" fill="none" stroke="#111" stroke-width="7.4" stroke-linejoin="round" stroke-linecap="round"/>
<path d="M766.2,333.8 C766.6,335.0 767.9,338.6 768.5,341.0 C769.1,343.4 769.8,346.8 770.0,348.0" fill="none" stroke="#111" stroke-width="7.4" stroke-linejoin="round" stroke-linecap="round"/>
<path d="M774.3,326.3 C775.6,327.9 779.7,332.9 782.0,336.0 C784.3,339.1 786.1,342.1 788.0,345.0 C789.9,347.9 792.7,352.2 793.6,353.6" fill="none" stroke="#111" stroke-width="8.2" stroke-linejoin="round" stroke-linecap="round"/>
<path d="M768.0,347.0 C769.5,347.1 774.0,347.2 777.0,347.5 C780.0,347.8 784.5,348.8 786.0,349.0" fill="none" stroke="#111" stroke-width="9.4" stroke-linejoin="round" stroke-linecap="round"/>
<path d="M786.6,360.0 C785.8,358.2 782.8,350.8 782.0,349.0" fill="none" stroke="#111" stroke-width="7.4" stroke-linejoin="round" stroke-linecap="round"/>
<path d="M777.8,372.5 C778.1,374.6 779.3,380.4 779.6,385.0 C779.9,389.6 779.8,397.5 779.8,400.0" fill="none" stroke="#111" stroke-width="6.6" stroke-linejoin="round" stroke-linecap="round"/>
<path d="M794.4,383.2 C793.8,385.3 792.0,392.2 791.0,396.0 C790.0,399.8 788.9,404.3 788.5,406.0" fill="none" stroke="#111" stroke-width="7.8" stroke-linejoin="round" stroke-linecap="round"/>
<path d="M804.4,390.3 C804.2,392.4 804.0,398.9 803.5,403.0 C803.0,407.1 801.8,413.0 801.5,415.0" fill="none" stroke="#111" stroke-width="8.0" stroke-linejoin="round" stroke-linecap="round"/>
<path d="M810.3,418.6 C809.8,420.5 808.4,426.4 807.0,430.0 C805.6,433.6 802.8,438.3 802.0,440.0" fill="none" stroke="#111" stroke-width="8.0" stroke-linejoin="round" stroke-linecap="round"/>
<path d="M812.2,446.0 C811.2,447.7 808.0,453.1 806.0,456.0 C804.0,458.9 801.0,462.2 800.0,463.5" fill="none" stroke="#111" stroke-width="8.0" stroke-linejoin="round" stroke-linecap="round"/>
<path d="M795.2,470.8 C795.7,469.3 797.5,463.5 798.0,462.0" fill="none" stroke="#111" stroke-width="7.2" stroke-linejoin="round" stroke-linecap="round"/>
<path d="M769.8,490.8 C771.0,489.2 774.5,484.1 777.0,481.0 C779.5,477.9 783.7,473.5 785.0,472.0" fill="none" stroke="#111" stroke-width="7.8" stroke-linejoin="round" stroke-linecap="round"/>
<path d="M748.5,485.8 C749.1,484.3 751.4,478.5 752.0,477.0" fill="none" stroke="#111" stroke-width="7.0" stroke-linejoin="round" stroke-linecap="round"/>
<path d="M728.0,486.0 C730.0,484.8 736.0,480.8 740.0,478.5 C744.0,476.2 750.0,473.1 752.0,472.0" fill="none" stroke="#111" stroke-width="7.6" stroke-linejoin="round" stroke-linecap="round"/>
<path d="M715.0,463.2 C717.5,462.9 725.0,461.9 730.0,461.5 C735.0,461.1 742.5,460.7 745.0,460.5" fill="none" stroke="#111" stroke-width="7.8" stroke-linejoin="round" stroke-linecap="round"/>
<path d="M716.8,449.6 C719.2,449.8 726.3,450.3 731.0,450.5 C735.7,450.7 742.7,450.9 745.0,451.0" fill="none" stroke="#111" stroke-width="7.8" stroke-linejoin="round" stroke-linecap="round"/>
<path d="M639.9,346.4 C638.3,345.4 638.7,345.3 638.6,344.8 C638.4,344.2 637.6,345.1 638.8,342.7 C639.9,340.3 643.9,333.1 646.3,328.8 C648.7,324.5 652.8,316.6 655.0,313.8 C657.2,311.0 659.4,310.3 661.3,310.0 C663.2,309.7 666.0,311.9 667.5,311.9 C669.0,311.9 671.2,310.6 671.3,310.0 C671.4,309.4 669.0,308.7 668.4,308.2 C667.8,307.7 667.5,307.2 667.5,306.7 C667.4,306.3 667.0,306.3 668.0,305.1 C668.9,303.9 671.6,301.2 673.8,298.8 C676.0,296.4 680.9,290.5 682.6,288.8 C684.3,287.1 684.6,287.6 685.1,287.4 C685.6,287.1 685.8,287.3 686.0,287.4 C686.1,287.6 686.3,287.7 686.2,288.3 C686.1,288.8 686.1,289.9 685.1,291.3 C684.1,292.7 678.8,296.9 679.4,297.5 C680.0,298.1 686.0,295.4 688.8,295.0 C691.6,294.6 696.4,294.5 698.0,294.5 C699.5,294.5 698.9,294.8 699.0,295.1 C699.2,295.3 699.3,295.7 699.1,296.2 C698.8,296.8 698.7,297.2 697.6,298.8 C696.5,300.4 691.1,306.6 691.9,306.9 C692.6,307.2 700.0,301.7 702.6,300.6 C705.2,299.5 707.9,299.8 709.0,299.8 C710.2,299.7 710.1,300.1 710.3,300.4 C710.4,300.7 710.6,301.1 710.2,301.8 C709.8,302.4 709.0,302.9 707.6,305.0 C706.2,307.1 700.1,314.8 700.7,315.7 C701.3,316.6 707.3,312.4 711.3,311.3 C715.3,310.2 723.3,308.5 727.6,308.2 C731.9,307.9 738.0,309.3 739.9,309.6 C741.9,310.0 740.8,310.2 740.9,310.5 C740.9,310.8 741.0,311.1 740.3,311.6 C739.7,312.1 739.4,312.7 736.4,313.8 C733.4,314.9 721.8,317.4 720.1,318.8 C718.4,320.2 723.6,322.3 725.1,323.2 C726.6,324.1 729.3,324.5 730.2,325.0 C731.1,325.5 731.1,325.9 731.1,326.3 C731.1,326.7 731.1,327.1 730.2,327.6 C729.3,328.1 728.1,328.5 725.1,329.4 C722.1,330.3 713.9,332.4 710.1,333.8 C706.4,335.2 702.7,336.7 700.1,338.8 C697.5,340.9 694.5,344.8 692.6,347.6 C690.7,350.4 688.8,355.4 687.6,357.6 C686.4,359.8 685.9,360.7 684.5,362.0 C683.1,363.3 679.8,365.3 678.0,366.0 C676.2,366.7 674.1,366.2 672.5,366.5 C670.9,366.8 668.5,367.7 667.0,368.0 C665.5,368.3 663.2,368.7 662.2,368.7 C661.3,368.8 661.1,368.7 660.7,368.5 C660.3,368.3 660.3,368.5 659.6,367.5 C658.8,366.5 656.9,363.9 656.0,362.0 C655.1,360.1 655.4,354.4 653.8,355.0 C652.1,355.6 646.8,364.0 645.0,366.3 C643.2,368.6 642.4,370.0 641.8,370.7 C641.1,371.3 641.0,371.0 640.8,370.9 C640.6,370.8 640.2,371.3 640.4,370.0 C640.7,368.8 641.2,365.3 642.5,362.5 C643.8,359.7 649.2,353.7 648.8,351.3 C648.4,348.9 641.4,347.4 639.9,346.4Z" fill="#fff"/>
<path d="M777.6,373.4 C777.6,373.0 777.7,373.1 777.9,373.0 C778.0,373.0 777.7,372.1 778.3,373.2 C779.0,374.3 781.8,376.9 782.4,380.2 C783.0,383.5 782.2,390.9 782.4,395.3 C782.5,399.7 782.3,409.5 783.4,409.5 C784.5,409.5 788.0,398.8 789.5,395.3 C791.0,391.8 792.4,387.7 793.2,386.2 C793.9,384.8 794.1,385.3 794.5,385.3 C794.9,385.4 795.4,385.4 795.9,386.3 C796.3,387.2 797.2,389.2 797.6,391.3 C798.0,393.4 798.0,400.4 798.6,400.4 C799.2,400.4 800.9,392.8 801.6,391.3 C802.3,389.8 803.0,390.6 803.4,390.4 C803.8,390.3 804.1,390.3 804.3,390.5 C804.5,390.6 804.6,389.0 804.8,391.2 C805.0,393.5 806.2,401.5 805.7,405.5 C805.2,409.5 802.5,414.1 801.6,417.6 C800.7,421.1 798.8,428.1 799.6,428.7 C800.4,429.3 805.5,422.8 807.0,421.6 C808.6,420.4 809.1,420.8 809.7,421.0 C810.4,421.2 811.1,421.7 811.5,423.1 C811.9,424.4 813.2,427.5 812.6,430.0 C812.0,432.5 809.1,436.9 807.6,440.0 C806.1,443.1 802.2,449.5 802.3,450.6 C802.4,451.7 807.1,448.0 808.3,447.6 C809.5,447.2 810.0,447.5 810.3,447.9 C810.7,448.2 811.3,448.2 810.7,449.9 C810.2,451.6 808.1,456.5 806.6,459.3 C805.1,462.1 802.4,466.9 801.0,468.5 C799.6,470.1 798.2,469.9 797.4,470.1 C796.6,470.3 796.1,470.2 795.8,470.0 C795.4,469.7 795.1,469.4 795.1,468.5 C795.0,467.6 795.0,465.6 795.5,464.0 C796.0,462.4 800.0,456.8 798.4,458.0 C796.8,459.2 788.5,468.1 785.0,472.0 C781.5,475.9 777.0,481.5 775.0,484.0 C773.0,486.5 772.2,487.7 771.6,488.4 C771.0,489.1 771.3,488.5 771.2,488.5 C771.2,488.4 770.8,488.9 771.1,488.1 C771.5,487.4 772.9,486.5 773.7,483.6 C774.5,480.7 778.4,469.9 776.3,468.8 C774.2,467.7 763.8,474.0 760.0,476.3 C756.2,478.6 752.5,482.9 750.8,484.1 C749.2,485.3 749.4,484.6 749.0,484.4 C748.6,484.2 748.1,483.8 747.9,482.9 C747.7,482.0 749.4,478.2 747.5,478.2 C745.6,478.2 737.5,482.0 735.0,483.0 C732.5,484.0 731.4,484.7 730.6,484.9 C729.9,485.2 730.2,484.9 730.1,484.8 C730.1,484.6 728.4,485.7 730.2,484.2 C732.1,482.8 739.2,478.3 742.5,475.0 C745.8,471.7 753.4,464.0 752.5,462.5 C751.6,461.0 741.0,464.8 736.3,465.0 C731.6,465.2 723.6,464.1 721.2,463.8 C718.7,463.4 720.1,463.0 720.1,462.7 C720.0,462.3 719.5,461.9 721.0,461.4 C722.4,460.8 725.8,459.5 730.0,458.8 C734.2,458.1 747.9,457.6 748.8,456.9 C749.7,456.1 740.2,454.7 736.3,453.8 C732.4,452.9 725.2,451.5 723.1,450.9 C720.9,450.2 721.9,449.9 721.9,449.5 C722.0,449.1 721.5,448.6 723.1,448.1 C724.7,447.6 729.8,446.8 732.5,446.3 C735.2,445.8 737.9,446.1 741.0,445.0 C744.1,443.9 749.7,441.6 753.4,439.2 C757.1,436.8 762.3,432.4 765.5,429.0 C768.7,425.6 772.7,420.1 774.5,416.5 C776.3,412.9 777.1,409.2 777.6,405.2 C778.1,401.2 777.6,394.4 777.6,390.0 C777.6,385.6 777.8,378.5 777.8,376.0 C777.8,373.5 777.6,373.9 777.6,373.4Z" fill="#fff"/>
<path d="M653.8,354.0 C652.5,355.7 648.3,360.8 646.0,364.0 C643.7,367.2 640.8,371.5 639.8,373.0" fill="none" stroke="#fff" stroke-width="4.2" stroke-linejoin="round" stroke-linecap="round"/>
<path d="M655.5,362.0 C655.2,365.8 654.0,377.5 653.5,385.0 C653.0,392.5 652.9,403.3 652.8,407.0" fill="none" stroke="#fff" stroke-width="4.6" stroke-linejoin="round" stroke-linecap="round"/>
<path d="M665.5,366.0 C665.3,369.3 664.8,380.4 664.5,386.0 C664.2,391.6 664.1,397.2 664.0,399.5" fill="none" stroke="#fff" stroke-width="4.6" stroke-linejoin="round" stroke-linecap="round"/>
<path d="M687.0,352.0 C686.2,353.8 683.3,358.7 682.0,363.0 C680.7,367.3 679.7,372.8 679.2,378.0 C678.7,383.2 678.7,389.1 678.8,394.0 C678.9,398.9 679.8,405.2 680.0,407.5" fill="none" stroke="#fff" stroke-width="4.8" stroke-linejoin="round" stroke-linecap="round"/>
<path d="M686.5,287.0 C685.2,288.5 681.5,293.2 679.0,296.0 C676.5,298.8 672.8,302.2 671.5,303.5" fill="none" stroke="#fff" stroke-width="4.6" stroke-linejoin="round" stroke-linecap="round"/>
<path d="M699.8,294.8 C698.5,295.2 694.5,296.4 692.0,297.5 C689.5,298.6 686.2,300.8 685.0,301.5" fill="none" stroke="#fff" stroke-width="4.8" stroke-linejoin="round" stroke-linecap="round"/>
<path d="M711.5,299.8 C710.2,300.4 706.3,302.2 704.0,303.5 C701.7,304.8 698.6,306.8 697.5,307.5" fill="none" stroke="#fff" stroke-width="4.8" stroke-linejoin="round" stroke-linecap="round"/>
<path d="M742.8,310.2 C740.7,310.2 734.2,309.5 730.0,310.0 C725.8,310.5 721.8,311.9 717.6,313.2 C713.4,314.5 707.1,317.2 705.0,318.0" fill="none" stroke="#fff" stroke-width="5.4" stroke-linejoin="round" stroke-linecap="round"/>
<path d="M733.5,326.3 C732.1,326.3 727.9,326.1 725.0,326.5 C722.1,326.9 717.5,328.2 716.0,328.5" fill="none" stroke="#fff" stroke-width="4.6" stroke-linejoin="round" stroke-linecap="round"/>
<path d="M638.0,344.5 C639.7,341.6 644.6,332.4 648.0,327.0 C651.4,321.6 656.8,314.3 658.5,311.8" fill="none" stroke="#fff" stroke-width="5.0" stroke-linejoin="round" stroke-linecap="round"/>
<path d="M662.0,310.5 C662.8,310.9 666.2,312.6 667.0,313.0" fill="none" stroke="#fff" stroke-width="4.5" stroke-linejoin="round" stroke-linecap="round"/>
<path d="M740.5,331.5 C742.1,332.2 747.0,334.2 750.0,335.8 C753.0,337.4 755.8,339.1 758.5,341.0 C761.2,342.9 763.8,345.3 766.0,347.5 C768.2,349.7 770.4,351.9 771.5,354.0 C772.6,356.1 772.4,359.2 772.6,360.2" fill="none" stroke="#fff" stroke-width="6.6" stroke-linejoin="round" stroke-linecap="round"/>
<path d="M744.2,323.0 C745.4,323.3 749.0,323.9 751.5,324.8 C754.0,325.7 757.8,328.0 759.0,328.6" fill="none" stroke="#fff" stroke-width="4.4" stroke-linejoin="round" stroke-linecap="round"/>
<path d="M758.5,328.8 C757.4,329.8 753.1,333.6 752.0,334.5" fill="none" stroke="#fff" stroke-width="4.4" stroke-linejoin="round" stroke-linecap="round"/>
<path d="M766.2,333.8 C766.6,335.0 767.9,338.6 768.5,341.0 C769.1,343.4 769.8,346.8 770.0,348.0" fill="none" stroke="#fff" stroke-width="4.4" stroke-linejoin="round" stroke-linecap="round"/>
<path d="M774.3,326.3 C775.6,327.9 779.7,332.9 782.0,336.0 C784.3,339.1 786.1,342.1 788.0,345.0 C789.9,347.9 792.7,352.2 793.6,353.6" fill="none" stroke="#fff" stroke-width="5.2" stroke-linejoin="round" stroke-linecap="round"/>
<path d="M768.0,347.0 C769.5,347.1 774.0,347.2 777.0,347.5 C780.0,347.8 784.5,348.8 786.0,349.0" fill="none" stroke="#fff" stroke-width="6.4" stroke-linejoin="round" stroke-linecap="round"/>
<path d="M786.6,360.0 C785.8,358.2 782.8,350.8 782.0,349.0" fill="none" stroke="#fff" stroke-width="4.4" stroke-linejoin="round" stroke-linecap="round"/>
<path d="M777.8,372.5 C778.1,374.6 779.3,380.4 779.6,385.0 C779.9,389.6 779.8,397.5 779.8,400.0" fill="none" stroke="#fff" stroke-width="3.6" stroke-linejoin="round" stroke-linecap="round"/>
<path d="M794.4,383.2 C793.8,385.3 792.0,392.2 791.0,396.0 C790.0,399.8 788.9,404.3 788.5,406.0" fill="none" stroke="#fff" stroke-width="4.8" stroke-linejoin="round" stroke-linecap="round"/>
<path d="M804.4,390.3 C804.2,392.4 804.0,398.9 803.5,403.0 C803.0,407.1 801.8,413.0 801.5,415.0" fill="none" stroke="#fff" stroke-width="5.0" stroke-linejoin="round" stroke-linecap="round"/>
<path d="M810.3,418.6 C809.8,420.5 808.4,426.4 807.0,430.0 C805.6,433.6 802.8,438.3 802.0,440.0" fill="none" stroke="#fff" stroke-width="5.0" stroke-linejoin="round" stroke-linecap="round"/>
<path d="M812.2,446.0 C811.2,447.7 808.0,453.1 806.0,456.0 C804.0,458.9 801.0,462.2 800.0,463.5" fill="none" stroke="#fff" stroke-width="5.0" stroke-linejoin="round" stroke-linecap="round"/>
<path d="M795.2,470.8 C795.7,469.3 797.5,463.5 798.0,462.0" fill="none" stroke="#fff" stroke-width="4.2" stroke-linejoin="round" stroke-linecap="round"/>
<path d="M769.8,490.8 C771.0,489.2 774.5,484.1 777.0,481.0 C779.5,477.9 783.7,473.5 785.0,472.0" fill="none" stroke="#fff" stroke-width="4.8" stroke-linejoin="round" stroke-linecap="round"/>
<path d="M748.5,485.8 C749.1,484.3 751.4,478.5 752.0,477.0" fill="none" stroke="#fff" stroke-width="4.0" stroke-linejoin="round" stroke-linecap="round"/>
<path d="M728.0,486.0 C730.0,484.8 736.0,480.8 740.0,478.5 C744.0,476.2 750.0,473.1 752.0,472.0" fill="none" stroke="#fff" stroke-width="4.6" stroke-linejoin="round" stroke-linecap="round"/>
<path d="M715.0,463.2 C717.5,462.9 725.0,461.9 730.0,461.5 C735.0,461.1 742.5,460.7 745.0,460.5" fill="none" stroke="#fff" stroke-width="4.8" stroke-linejoin="round" stroke-linecap="round"/>
<path d="M716.8,449.6 C719.2,449.8 726.3,450.3 731.0,450.5 C735.7,450.7 742.7,450.9 745.0,451.0" fill="none" stroke="#fff" stroke-width="4.8" stroke-linejoin="round" stroke-linecap="round"/>
<path d="M688.5,418.0 C688.8,419.5 689.6,424.3 690.5,427.0 C691.4,429.7 692.4,431.9 694.0,434.0 C695.6,436.1 697.7,437.9 700.0,439.5 C702.3,441.1 706.7,442.8 708.0,443.5" fill="none" stroke="#111" stroke-width="7.2" stroke-linejoin="round" stroke-linecap="round"/>
<path d="M683.0,426.0 C683.9,427.7 686.5,432.7 688.5,436.0 C690.5,439.3 692.9,443.0 695.0,446.0 C697.1,449.0 699.5,451.4 701.0,454.0 C702.5,456.6 703.5,460.2 704.0,461.5" fill="none" stroke="#111" stroke-width="8.0" stroke-linejoin="round" stroke-linecap="round"/>
<path d="M689.0,448.0 C690.2,448.1 694.8,448.4 696.0,448.5" fill="none" stroke="#111" stroke-width="6.8" stroke-linejoin="round" stroke-linecap="round"/>
<path d="M706.0,453.5 C705.0,452.9 701.0,450.6 700.0,450.0" fill="none" stroke="#111" stroke-width="6.8" stroke-linejoin="round" stroke-linecap="round"/>
<path d="M688.5,418.0 C688.8,419.5 689.6,424.3 690.5,427.0 C691.4,429.7 692.4,431.9 694.0,434.0 C695.6,436.1 697.7,437.9 700.0,439.5 C702.3,441.1 706.7,442.8 708.0,443.5" fill="none" stroke="#fff" stroke-width="4.2" stroke-linejoin="round" stroke-linecap="round"/>
<path d="M683.0,426.0 C683.9,427.7 686.5,432.7 688.5,436.0 C690.5,439.3 692.9,443.0 695.0,446.0 C697.1,449.0 699.5,451.4 701.0,454.0 C702.5,456.6 703.5,460.2 704.0,461.5" fill="none" stroke="#fff" stroke-width="5.0" stroke-linejoin="round" stroke-linecap="round"/>
<path d="M689.0,448.0 C690.2,448.1 694.8,448.4 696.0,448.5" fill="none" stroke="#fff" stroke-width="3.8" stroke-linejoin="round" stroke-linecap="round"/>
<path d="M706.0,453.5 C705.0,452.9 701.0,450.6 700.0,450.0" fill="none" stroke="#fff" stroke-width="3.8" stroke-linejoin="round" stroke-linecap="round"/>
<rect x="678.6" y="322.4" width="18.0" height="6.5" rx="3.2" transform="rotate(-40.0 687.6 325.7)" fill="#c8c8c8" stroke="#111" stroke-width="1.5"/>
<rect x="694.3" y="324.1" width="19.0" height="6.5" rx="3.2" transform="rotate(-33.0 703.8 327.3)" fill="#c8c8c8" stroke="#111" stroke-width="1.5"/>
<rect x="656.0" y="347.1" width="28.0" height="7.0" rx="3.5" transform="rotate(-57.7 670.0 350.6)" fill="#c8c8c8" stroke="#111" stroke-width="1.5"/>
<rect x="669.8" y="346.1" width="26.7" height="6.5" rx="3.2" transform="rotate(-52.4 683.1 349.4)" fill="#c8c8c8" stroke="#111" stroke-width="1.5"/>
<rect x="748.4" y="433.8" width="35.9" height="4.6" rx="2.3" transform="rotate(-49.7 766.4 436.1)" fill="#c8c8c8" stroke="#111" stroke-width="1.5"/>
<rect x="763.8" y="422.5" width="43.4" height="7.0" rx="3.5" transform="rotate(-61.1 785.5 426.0)" fill="#c8c8c8" stroke="#111" stroke-width="1.5"/>
<rect x="752.5" y="457.8" width="24.4" height="7.0" rx="3.5" transform="rotate(-46.2 764.8 461.3)" fill="#c8c8c8" stroke="#111" stroke-width="1.5"/>
<rect x="774.8" y="445.4" width="30.7" height="7.0" rx="3.5" transform="rotate(-47.1 790.2 448.9)" fill="#c8c8c8" stroke="#111" stroke-width="1.5"/>
<rect x="648.8" y="318.5" width="14.7" height="4.3" rx="2.1" transform="rotate(-69.7 656.2 320.6)" fill="#c8c8c8" stroke="#111" stroke-width="1.5"/>
<path d="M685.5,310.8 C686.5,311.8 680.7,318.4 679.0,321.7 C677.3,325.0 675.7,329.2 673.9,332.5 C672.1,335.8 668.8,341.0 666.7,343.4 C664.6,345.8 661.6,348.0 660.0,348.5 C658.4,349.0 656.4,348.1 655.8,347.0 C655.2,345.9 655.4,343.2 656.0,341.0 C656.6,338.8 658.1,335.4 659.5,332.5 C660.9,329.6 663.3,324.3 665.2,321.7 C667.1,319.1 669.0,316.6 672.0,315.0 C675.0,313.4 684.5,309.8 685.5,310.8Z" fill="#c8c8c8" stroke="#111" stroke-width="1.5"/>
<line x1="427.8" y1="173.5" x2="577" y2="245.7" stroke="#222" stroke-width="1.1"/>
<line x1="440" y1="421.3" x2="730" y2="420.2" stroke="#111" stroke-width="1"/>
<line x1="427" y1="544.3" x2="652.7" y2="505.8" stroke="#222" stroke-width="1.1"/>
<path d="M273.1,263.7 L279.2,268.1" stroke="#222" stroke-width="1.5" stroke-linecap="round"/>
<path d="M194.2,569.4 L200.3,573.8" stroke="#222" stroke-width="1.5" stroke-linecap="round"/>
<path d="M334.4,569.4 L340.5,573.8" stroke="#222" stroke-width="1.5" stroke-linecap="round"/>
<path d="M70.1,611.2 L76.2,615.6" stroke="#222" stroke-width="1.5" stroke-linecap="round"/>
<path d="M179.6,611.2 L185.7,615.6" stroke="#222" stroke-width="1.5" stroke-linecap="round"/>
<path d="M281.2,611.2 L287.3,615.6" stroke="#222" stroke-width="1.5" stroke-linecap="round"/>
<circle cx="188.5" cy="306.4" r="4.0" fill="none" stroke="#111" stroke-width="1.35"/>
<circle cx="395.1" cy="436.3" r="4.0" fill="none" stroke="#111" stroke-width="1.35"/>
<circle cx="217.5" cy="654.0" r="4.0" fill="none" stroke="#111" stroke-width="1.35"/>
</svg>
<div class="t" style="left:414.2px;top:25.5px;font-size:45px;color:#5a5a5a">细胞构造</div>
<div class="t" style="left:40.4px;top:108.5px;font-size:37px;letter-spacing:1.5px;color:#4a4a4a">细胞膜</div>
<div class="t" style="left:40.4px;top:364px;font-size:37px;letter-spacing:1.5px;color:#4a4a4a">细胞核</div>
<div class="t" style="left:40.4px;top:498px;font-size:37px;letter-spacing:1.5px;color:#4a4a4a">细胞质</div>
<div class="ln" style="top:160.5px;font-size:27px"><span style="left:39.6px">细</span><span style="left:66.3px">胞</span><span style="left:97.6px">最</span><span style="left:126.8px">外</span><span style="left:157.0px">层</span><span style="left:188.3px;font-size:29px;top:-1px">,</span><span style="left:203.9px">构</span><span style="left:233.6px">造</span><span style="left:262.8px">为</span><span style="left:292.0px">双</span><span style="left:322.2px">层</span><span style="left:351.4px">磷</span><span style="left:379.6px">脂</span></div>
<div class="ln" style="top:201.3px;font-size:27px"><span style="left:37.1px">膜</span><span style="left:70.5px;font-size:29px;top:-1px">,</span><span style="left:88.2px">可</span><span style="left:117.4px">控</span><span style="left:148.7px">制</span><span style="left:178.9px">物</span><span style="left:207.1px">质</span><span style="left:239.8px">进</span><span style="left:269.1px">出</span><span style="left:299.2px">细</span><span style="left:327.4px">胞</span><span style="left:361.8px">;</span><span style="left:379.6px">具</span></div>
<div class="ln" style="top:242.8px;font-size:27px"><span style="left:38.2px">有</span><span style="left:68.4px">膜</span><span style="left:99.7px">蛋</span><span style="left:131.0px">白</span><span style="left:162.6px;font-size:29px;top:-1px">,</span><span style="left:179.7px">可</span><span style="left:209.5px">辨</span><span style="left:244.0px">认</span><span style="left:290.3px">侦</span><span style="left:320.5px">测</span><span style="left:351.8px">细</span><span style="left:380.0px">胞</span></div>
<div class="ln" style="top:283.2px;font-size:27px"><span style="left:38.2px">表</span><span style="left:68.4px">面</span><span style="left:95.6px">的</span><span style="left:124.7px">信</span><span style="left:154.9px">息</span></div>
<div class="ln" style="top:414.5px;font-size:27px"><span style="left:38.2px">外</span><span style="left:66.3px">有</span><span style="left:96.5px">核</span><span style="left:123.7px">膜</span><span style="left:156.0px;font-size:29px;top:-1px">,</span><span style="left:167.5px">内</span><span style="left:196.7px">有</span><span style="left:225.3px">遗</span><span style="left:254.4px">传</span><span style="left:282.6px">物</span><span style="left:310.8px">质</span></div>
<div class="t" style="left:343.7px;top:412.5px;font-size:29.5px;transform:scaleX(0.72);transform-origin:0 0">DNA</div>
<div class="ln" style="top:548.5px;font-size:27px"><span style="left:38.2px">含</span><span style="left:70.5px">有</span><span style="left:101.8px">内</span><span style="left:131.0px">质</span><span style="left:161.3px">网</span><span style="left:209.2px">高</span><span style="left:239.9px">尔</span><span style="left:270.1px">基</span><span style="left:303.4px">体</span><span style="left:351.4px">线</span><span style="left:379.6px">粒</span></div>
<div class="ln" style="top:590.3px;font-size:27px"><span style="left:39.2px">体</span><span style="left:86.1px">核</span><span style="left:118.5px">糖</span><span style="left:148.7px">体</span><span style="left:192.5px">溶</span><span style="left:222.0px">小</span><span style="left:249.2px">体</span><span style="left:295.1px">分</span><span style="left:323.3px">泌</span><span style="left:352.5px">小</span><span style="left:379.6px">泡</span></div>
<div class="ln" style="top:632.0px;font-size:27px"><span style="left:38.4px">等</span><span style="left:66.5px">胞</span><span style="left:96.8px">器</span><span style="left:126.0px">与</span><span style="left:154.1px">胞</span><span style="left:182.1px">液</span></div>
</body></html>
